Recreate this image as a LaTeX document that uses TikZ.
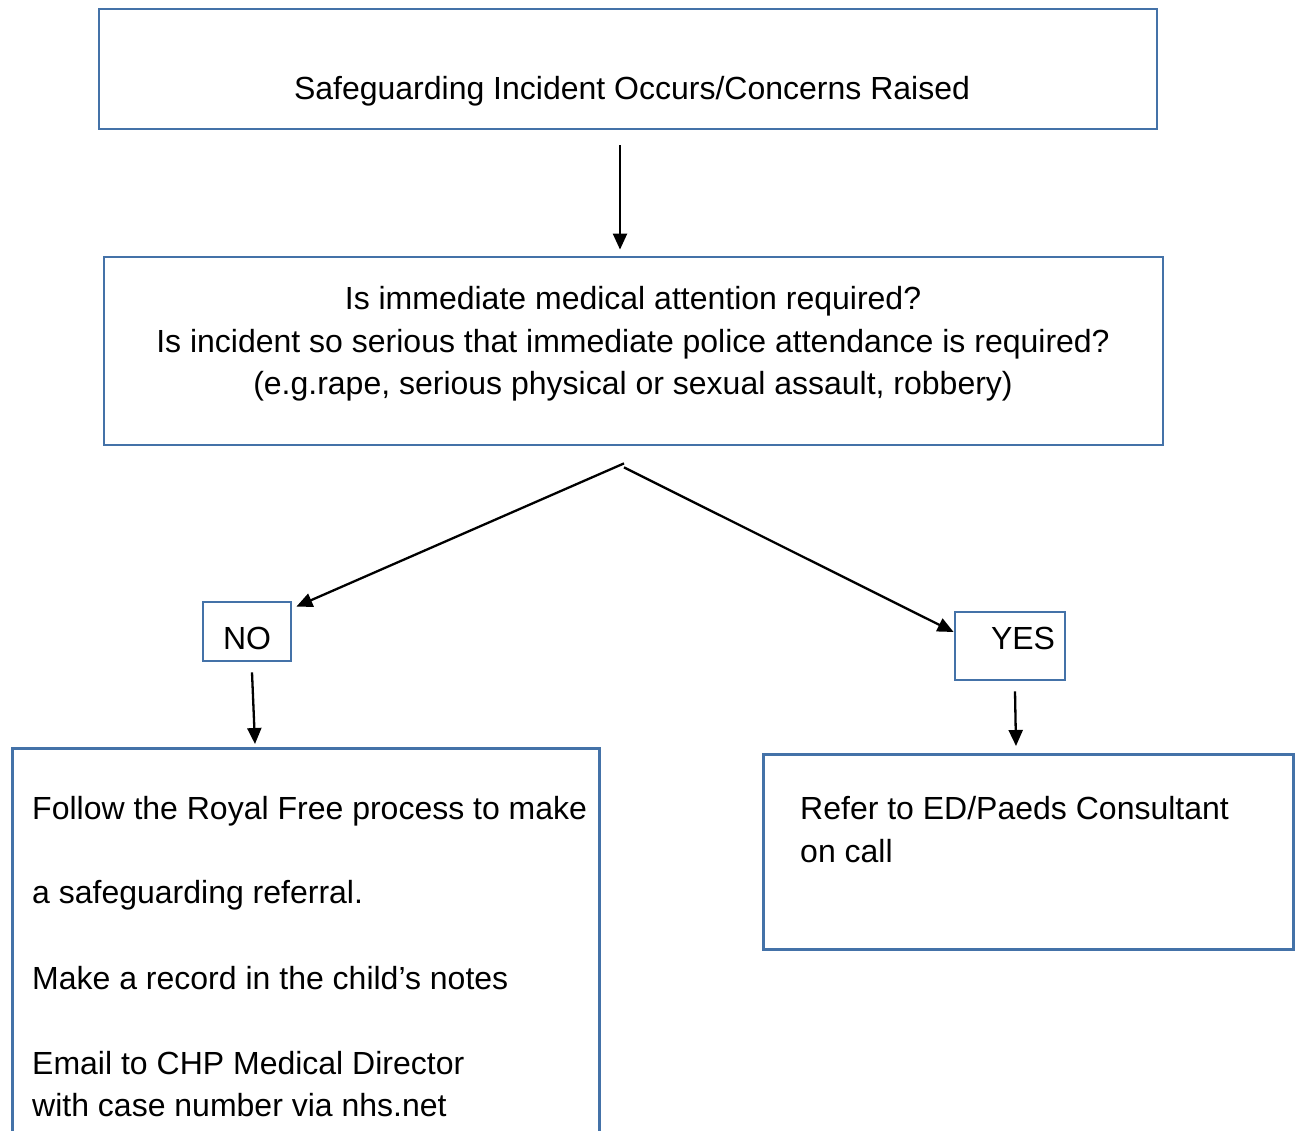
\documentclass[tikz,border=0pt]{standalone}
\usepackage{fontspec}
\setmainfont{Liberation Sans}
\usetikzlibrary{arrows.meta,calc}
\definecolor{boxblue}{RGB}{68,114,168}
\begin{document}
\begin{tikzpicture}[x=1pt,y=-1pt,
  box/.style={draw=boxblue,line width=2.8pt,inner sep=0pt,fill=white},
  txt/.style={inner sep=0pt,font=\fontsize{32}{42.5}\selectfont},
  arr/.style={line width=2.3pt,-{Triangle[length=16pt,width=14pt]}}]
\useasboundingbox (0,0) rectangle (1297,1131);
\clip (0,0) rectangle (1297,1131);
% boxes
\node[box,minimum width=1058pt,minimum height=120pt] (top) at (628,69) {};
\node[box,minimum width=1059pt,minimum height=188pt] (q) at (633.5,351) {};
\node[box,minimum width=88pt,minimum height=59pt] (no) at (247,631.5) {};
\node[box,minimum width=110pt,minimum height=68pt] (yes) at (1010,646) {};
\node[box,minimum width=587pt,minimum height=500pt,anchor=north west] (left) at (11,747) {};
\node[box,minimum width=530pt,minimum height=195pt,anchor=north west] (right) at (762,753) {};
% texts
\node[txt,anchor=base] (t1) at (632,100) {Safeguarding Incident Occurs/Concerns Raised};
\node[txt,align=center] (t2) at (633,344) {Is immediate medical attention required?\\Is incident so serious that immediate police attendance is required?\\(e.g.rape, serious physical or sexual assault, robbery)};
\node[txt,anchor=base] (t3) at (247,649) {NO};
\node[txt,anchor=base] (t4) at (1023,649) {YES};
\node[txt,anchor=base west] (l1) at (32,819) {Follow the Royal Free process to make};
\node[txt,anchor=base west] (l2) at (32,903) {a safeguarding referral.};
\node[txt,anchor=base west] (l3) at (32,989) {Make a record in the child’s notes};
\node[txt,anchor=base west] (l4) at (32,1074) {Email to CHP Medical Director};
\node[txt,anchor=base west] (l5) at (32,1116) {with case number via nhs.net};
\node[txt,anchor=base west] (r1) at (800,819) {Refer to ED/Paeds Consultant};
\node[txt,anchor=base west] (r2) at (800,862) {on call};
% connectors
\coordinate (fork) at ($(q.south)+(-9.5,17)$);
\coordinate (fork2) at ($(q.south)+(-9.5,21)$);
\draw[arr] ($(top.south)+(-8,15)$) -- ($(q.north)+(-13.5,-6)$);
\draw[arr] (fork) -- ($(no.north east)+(4,6)$);
\draw[arr] (fork2) -- ($(yes.west)+(0,-14)$);
\draw[arr] ($(no.south)+(5,10)$) -- ($(left.north west)+(244,-3)$);
\draw[arr] ($(yes.south)+(5,10)$) -- ($(right.north west)+(254,-7)$);
\end{tikzpicture}
\end{document}
